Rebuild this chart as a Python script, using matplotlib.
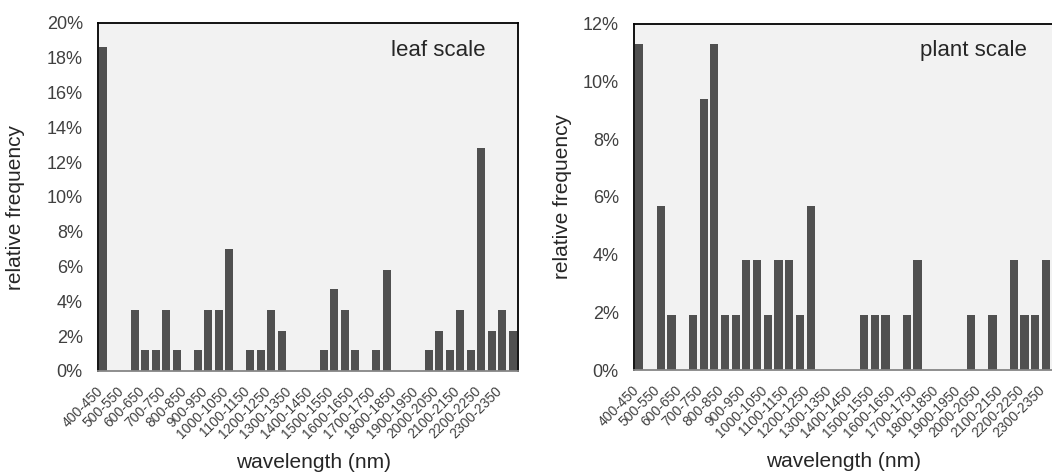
# Relative frequency of selected wavelengths, leaf vs plant scale

# Header ------------------------------------------------------------------

import matplotlib
matplotlib.use("Agg")
import matplotlib.pyplot as plt
from matplotlib.ticker import FuncFormatter
from matplotlib.transforms import ScaledTranslation

plt.rcParams["font.family"] = ["Liberation Sans", "DejaVu Sans"]

# Data --------------------------------------------------------------------

bins = ["400-450", "450-500", "500-550", "550-600", "600-650", "650-700",
        "700-750", "750-800", "800-850", "850-900", "900-950", "950-1000",
        "1000-1050", "1050-1100", "1100-1150", "1150-1200", "1200-1250",
        "1250-1300", "1300-1350", "1350-1400", "1400-1450", "1450-1500",
        "1500-1550", "1550-1600", "1600-1650", "1650-1700", "1700-1750",
        "1750-1800", "1800-1850", "1850-1900", "1900-1950", "1950-2000",
        "2000-2050", "2050-2100", "2100-2150", "2150-2200", "2200-2250",
        "2250-2300", "2300-2350", "2350-2400"]

# relative frequency in %
leaf = [18.6, 0, 0, 3.5, 1.2, 1.2, 3.5, 1.2, 0, 1.2,
        3.5, 3.5, 7.0, 0, 1.2, 1.2, 3.5, 2.3, 0, 0,
        0, 1.2, 4.7, 3.5, 1.2, 0, 1.2, 5.8, 0, 0,
        0, 1.2, 2.3, 1.2, 3.5, 1.2, 12.8, 2.3, 3.5, 2.3]

plant = [11.3, 0, 5.7, 1.9, 0, 1.9, 9.4, 11.3, 1.9, 1.9,
         3.8, 3.8, 1.9, 3.8, 3.8, 1.9, 5.7, 0, 0, 0,
         0, 1.9, 1.9, 1.9, 0, 1.9, 3.8, 0, 0, 0,
         0, 1.9, 0, 1.9, 0, 3.8, 1.9, 1.9, 3.8, 3.8]

panels = [
    # data, title, ymax, axes rect, ylabel x, ylabel y, title x, xlabel x, label shift (pt)
    (leaf, "leaf scale", 20, [0.0932, 0.2140, 0.3992, 0.7373], -0.174, 0.47, 0.81, 0.512, 3.5),
    (plant, "plant scale", 12, [0.6027, 0.2161, 0.4068, 0.7331], -0.145, 0.50, 0.794, 0.49, 1),
]

# Plot --------------------------------------------------------------------

fig = plt.figure(figsize=(10.52, 4.72), dpi=100)

pos = list(range(len(bins)))

for vals, name, ymax, rect, ylx, yly, tx, xlx, dx in panels:
    ax = fig.add_axes(rect)
    ax.set_facecolor("#f2f2f2")
    ax.bar(pos, vals, width=0.76, color="#505050", zorder=2)

    ax.set_xlim(-0.5, len(bins) - 0.5)
    ax.set_ylim(0, ymax)
    ax.set_yticks(range(0, ymax + 1, 2))
    ax.yaxis.set_major_formatter(FuncFormatter(lambda v, p: "%d%%" % v))

    ax.set_xticks(pos[::2])
    ax.set_xticklabels(bins[::2], rotation=45, ha="right", va="baseline",
                       rotation_mode="anchor", fontsize=10, color="#404040")
    shift = ScaledTranslation(dx / 72, 0, fig.dpi_scale_trans)
    for lab in ax.get_xticklabels():
        lab.set_transform(lab.get_transform() + shift)
    ax.tick_params(axis="x", length=0, pad=15)
    ax.tick_params(axis="y", length=0, pad=11, labelsize=13, labelcolor="#404040")

    for s in ["top", "left", "right"]:
        ax.spines[s].set_color("black")
        ax.spines[s].set_linewidth(1.3)
    ax.spines["bottom"].set_color("#868686")
    ax.spines["bottom"].set_linewidth(1.3)

    ax.set_ylabel("relative frequency", fontsize=15, color="#262626")
    ax.yaxis.set_label_coords(ylx, yly)
    ax.set_xlabel("wavelength (nm)", fontsize=15, color="#262626")
    ax.xaxis.set_label_coords(xlx, -0.236)

    ax.text(tx, 0.922, name, transform=ax.transAxes, fontsize=16,
            ha="center", va="center", color="#262626")

plt.savefig("out.png", dpi=100)
